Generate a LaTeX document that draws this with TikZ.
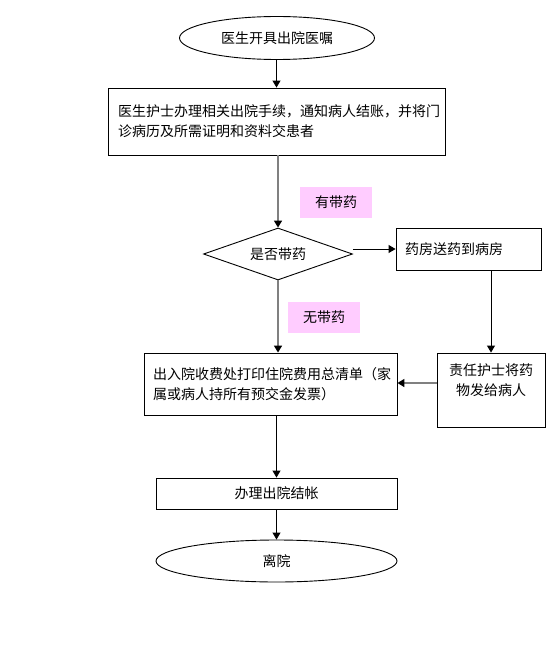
\documentclass[tikz,border=0pt]{standalone}
\usepackage{fontspec}
\newfontfamily\cjk{Noto Sans CJK SC}
\usetikzlibrary{arrows.meta,positioning,shapes.geometric}
\definecolor{notepink}{RGB}{255,204,255}
\definecolor{edgegray}{RGB}{128,128,128}
\tikzset{
  step box/.style={rectangle,draw,line width=0.9pt,inner sep=0pt,font=\cjk\fontsize{14}{20}\selectfont},
  end oval/.style={ellipse,draw,line width=0.9pt,inner sep=0pt,font=\cjk\fontsize{14}{20}\selectfont},
  ask diamond/.style={diamond,draw,line width=0.9pt,inner sep=0pt,shape aspect=2.87,font=\cjk\fontsize{14}{20}\selectfont},
  note tag/.style={fill=notepink,inner sep=0pt,minimum width=72pt,minimum height=31pt,font=\cjk\fontsize{14}{20}\selectfont},
  flow edge/.style={line width=1pt,-{Triangle[length=7pt,width=8pt]}},
  gray edge/.style={flow edge,draw=edgegray,line width=1.6pt,-{Triangle[length=7pt,width=8pt,color=black,fill=black]}},
}
\begin{document}
\begin{tikzpicture}[x=1pt,y=-1pt]
  \useasboundingbox[fill=white] (0,0) rectangle (553,671);
  \node[end oval,minimum width=195pt,minimum height=43pt] (start) at (277,38) {医生开具出院医嘱};
  \node[step box,minimum height=67pt,text width=317pt,inner xsep=10pt,align=left] (proc) at (276.5,121.5)
    {医生护士办理相关出院手续，通知病人结账，并将门\\诊病历及所需证明和资料交患者};
  \node[ask diamond,minimum width=149pt,minimum height=52pt] (ask) at (278,254) {是否带药};
  \node[step box,minimum height=42pt,text width=127pt,inner xsep=9pt,align=left] (pharm) at (468.5,249)
    {药房送药到病房};
  \node[step box,minimum height=74pt,text width=100pt,inner xsep=4pt,align=center] (nurse) at (491,390)
    {责任护士将药\\物发给病人\\\mbox{}};
  \node[step box,minimum height=62pt,text width=235pt,inner xsep=9pt,align=left] (bill) at (270.5,384)
    {出入院收费处打印住院费用总清单（家\\属或病人持所有预交金发票）};
  \node[step box,minimum width=241pt,minimum height=31pt] (settle) at (276.5,493.5) {办理出院结帐};
  \node[end oval,minimum width=241pt,minimum height=42pt] (leave) at (276.5,561) {离院};
  \node[note tag] (yes) at (336,202.5) {有带药};
  \node[note tag] (no) at (324,317.5) {无带药};

  \draw[flow edge] (start.south -| proc.north) -- (proc.north);
  \draw[gray edge] (proc.south -| ask.north) -- (ask.north);
  \draw[flow edge] (ask.east |- pharm.west) -- (pharm.west);
  \draw[flow edge] (pharm.south -| nurse.north) -- (nurse.north);
  \draw[gray edge] (ask.south) -- (ask.south |- bill.north);
  \draw[gray edge] (nurse.west |- 0,383) -- (bill.east |- 0,383);
  \draw[flow edge] (settle.north |- bill.south) -- (settle.north);
  \draw[flow edge] (settle.south) -- (leave.north);
\end{tikzpicture}
\end{document}
